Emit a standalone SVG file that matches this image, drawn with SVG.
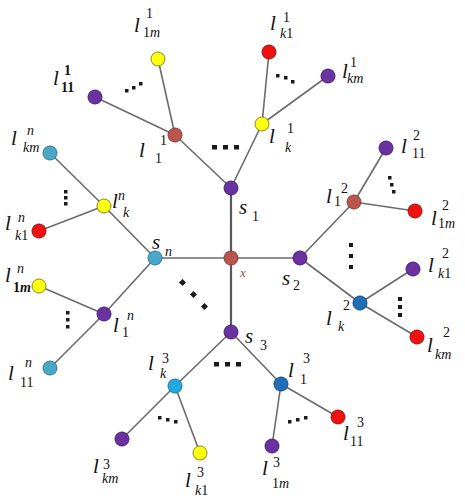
<svg xmlns="http://www.w3.org/2000/svg" width="465" height="501" viewBox="0 0 465 501">
<style>
.e{stroke:#6b6b6b;stroke-width:1.6;fill:none}
.t{stroke:#595959;stroke-width:2.2}
.n{stroke-width:1}
.pu{fill:#6a32a0;stroke:#4a1f78}
.br{fill:#b9554f;stroke:#8a3a36}
.ye{fill:#ffff10;stroke:#8a8a20}
.re{fill:#f01010;stroke:#a01010}
.te{fill:#4aa8c6;stroke:#2f7c96}
.bl{fill:#1e6fb8;stroke:#154e84}
.sk{fill:#23a8e0;stroke:#1778a8}
text{font-family:"Liberation Serif","DejaVu Serif",serif;fill:#111}
.l{font-style:italic;font-size:21px}
.s{font-size:14px}
.i{font-style:italic}
.sv{font-style:italic;font-size:21px}
.d{fill:#1a1a1a}
</style>
<g id="connectors">
<line class="e t" x1="231" y1="258" x2="231" y2="188"/>
<line class="e t" x1="231" y1="258" x2="231" y2="332"/>
<line class="e" x1="231" y1="258" x2="300" y2="258"/>
<line class="e" x1="231" y1="258" x2="155" y2="258"/>
<line class="e" x1="231" y1="188" x2="175" y2="135"/>
<line class="e" x1="231" y1="188" x2="262" y2="124"/>
<line class="e" x1="175" y1="135" x2="95" y2="97"/>
<line class="e" x1="175" y1="135" x2="158" y2="59"/>
<line class="e" x1="262" y1="124" x2="269" y2="52"/>
<line class="e" x1="262" y1="124" x2="328" y2="76"/>
<line class="e" x1="300" y1="258" x2="354" y2="202"/>
<line class="e" x1="300" y1="258" x2="360" y2="303"/>
<line class="e" x1="354" y1="202" x2="386" y2="148"/>
<line class="e" x1="354" y1="202" x2="415" y2="211"/>
<line class="e" x1="360" y1="303" x2="413" y2="269"/>
<line class="e" x1="360" y1="303" x2="417" y2="337"/>
<line class="e" x1="231" y1="332" x2="281" y2="384"/>
<line class="e" x1="231" y1="332" x2="175" y2="386"/>
<line class="e" x1="281" y1="384" x2="338" y2="417"/>
<line class="e" x1="281" y1="384" x2="272" y2="446"/>
<line class="e" x1="175" y1="386" x2="122" y2="439"/>
<line class="e" x1="175" y1="386" x2="200" y2="453"/>
<line class="e" x1="155" y1="258" x2="104" y2="206"/>
<line class="e" x1="155" y1="258" x2="104" y2="314"/>
<line class="e" x1="104" y1="206" x2="50" y2="153"/>
<line class="e" x1="104" y1="206" x2="39" y2="231"/>
<line class="e" x1="104" y1="314" x2="39" y2="286"/>
<line class="e" x1="104" y1="314" x2="50" y2="368"/>
</g>
<g id="ellipses" class="d">
<rect x="125" y="89" width="3.5" height="3.5"/><rect x="132" y="86" width="3.5" height="3.5"/><rect x="139" y="82" width="3.5" height="3.5"/>
<rect x="212" y="145" width="5" height="4.5"/><rect x="223" y="145" width="5" height="4.5"/><rect x="234" y="145" width="5" height="4.5"/>
<rect x="276" y="74" width="3.5" height="3.5"/><rect x="284" y="76" width="3.5" height="3.5"/><rect x="291" y="80" width="3.5" height="3.5"/>
<rect x="64" y="190" width="3.5" height="3.5"/><rect x="64" y="196" width="3.5" height="3.5"/><rect x="64" y="202" width="3.5" height="3.5"/>
<rect x="180" y="280" width="5" height="5" transform="rotate(45 182.5 282.5)"/><rect x="191" y="292" width="5" height="5" transform="rotate(45 193.5 294.5)"/><rect x="202" y="304" width="5" height="5" transform="rotate(45 204.5 306.5)"/>
<rect x="66" y="311" width="3.5" height="3.5"/><rect x="66" y="318" width="3.5" height="3.5"/><rect x="66" y="325" width="3.5" height="3.5"/>
<rect x="388" y="176" width="3.5" height="3.5"/><rect x="390" y="183" width="3.5" height="3.5"/><rect x="392" y="190" width="3.5" height="3.5"/>
<rect x="349" y="243" width="4" height="4"/><rect x="349" y="254" width="4" height="4"/><rect x="349" y="265" width="4" height="4"/>
<rect x="398" y="297" width="4" height="4"/><rect x="398" y="305" width="4" height="4"/><rect x="398" y="313" width="4" height="4"/>
<rect x="214" y="362" width="5" height="4.5"/><rect x="225" y="362" width="5" height="4.5"/><rect x="236" y="362" width="5" height="4.5"/>
<rect x="158" y="416" width="3.5" height="3.5"/><rect x="166" y="418" width="3.5" height="3.5"/><rect x="174" y="420" width="3.5" height="3.5"/>
<rect x="288" y="420" width="3.5" height="3.5"/><rect x="296" y="418" width="3.5" height="3.5"/><rect x="304" y="416" width="3.5" height="3.5"/>
</g>
<g id="x"><circle class="n br" cx="231" cy="258" r="7"/><text x="240" y="277" class="i" font-size="13" style="fill:#9a4a45">x</text></g>
<g id="s1"><circle class="n pu" cx="231" cy="188" r="7"/><text><tspan x="239" y="214" class="sv">s</tspan><tspan x="252" y="221" class="s">1</tspan></text></g>
<g id="s2"><circle class="n pu" cx="300" cy="258" r="7"/><text><tspan x="282" y="285" class="sv">s</tspan><tspan x="293" y="290" class="s">2</tspan></text></g>
<g id="s3"><circle class="n pu" cx="231" cy="332" r="7"/><text><tspan x="245" y="343" class="sv">s</tspan><tspan x="260" y="350" class="s">3</tspan></text></g>
<g id="sn"><circle class="n te" cx="155" cy="258" r="7"/><text><tspan x="152" y="249" class="sv">s</tspan><tspan x="165" y="256" class="s i" font-size="12">n</tspan></text></g>
<g id="l1_1"><circle class="n br" cx="175" cy="135" r="7"/><text><tspan x="139" y="157" class="l">l</tspan><tspan x="160" y="145" class="s">1</tspan><tspan x="155" y="163" class="s">1</tspan></text></g>
<g id="l1_11"><circle class="n pu" cx="95" cy="97" r="7"/><text><tspan x="53" y="85" class="l">l</tspan><tspan x="64" y="75" class="s" font-weight="bold">1</tspan><tspan x="61" y="92" class="s" font-weight="bold">11</tspan></text></g>
<g id="l1_1m"><circle class="n ye" cx="158" cy="59" r="7"/><text><tspan x="134" y="32" class="l">l</tspan><tspan x="146" y="18" class="s">1</tspan><tspan x="143" y="37" class="s">1<tspan class="i">m</tspan></tspan></text></g>
<g id="l1_k"><circle class="n ye" cx="262" cy="124" r="7"/><text><tspan x="269" y="143" class="l">l</tspan><tspan x="287" y="133" class="s">1</tspan><tspan x="285" y="152" class="s i">k</tspan></text></g>
<g id="l1_k1"><circle class="n re" cx="269" cy="52" r="7"/><text><tspan x="270" y="30" class="l">l</tspan><tspan x="283" y="22" class="s">1</tspan><tspan x="280" y="38" class="s"><tspan class="i">k</tspan>1</tspan></text></g>
<g id="l1_km"><circle class="n pu" cx="328" cy="76" r="7"/><text><tspan x="342" y="78" class="l">l</tspan><tspan x="350" y="67" class="s">1</tspan><tspan x="347" y="83" class="s i">km</tspan></text></g>
<g id="l2_1"><circle class="n br" cx="354" cy="202" r="7"/><text><tspan x="326" y="203" class="l">l</tspan><tspan x="341" y="193" class="s">2</tspan><tspan x="334" y="206" class="s">1</tspan></text></g>
<g id="l2_11"><circle class="n pu" cx="386" cy="148" r="7"/><text><tspan x="401" y="153" class="l">l</tspan><tspan x="413" y="140" class="s">2</tspan><tspan x="412" y="158" class="s">11</tspan></text></g>
<g id="l2_1m"><circle class="n re" cx="415" cy="211" r="7"/><text><tspan x="431" y="225" class="l">l</tspan><tspan x="442" y="210" class="s">2</tspan><tspan x="438" y="228" class="s">1<tspan class="i">m</tspan></tspan></text></g>
<g id="l2_k"><circle class="n bl" cx="360" cy="303" r="7"/><text><tspan x="326" y="325" class="l">l</tspan><tspan x="343" y="310" class="s">2</tspan><tspan x="338" y="331" class="s i">k</tspan></text></g>
<g id="l2_k1"><circle class="n pu" cx="413" cy="269" r="7"/><text><tspan x="428" y="272" class="l">l</tspan><tspan x="442" y="258" class="s">2</tspan><tspan x="438" y="278" class="s"><tspan class="i">k</tspan>1</tspan></text></g>
<g id="l2_km"><circle class="n re" cx="417" cy="337" r="7"/><text><tspan x="427" y="352" class="l">l</tspan><tspan x="443" y="337" class="s">2</tspan><tspan x="435" y="359" class="s i" font-size="16">km</tspan></text></g>
<g id="l3_1"><circle class="n bl" cx="281" cy="384" r="7"/><text><tspan x="288" y="377" class="l">l</tspan><tspan x="303" y="363" class="s">3</tspan><tspan x="300" y="384" class="s">1</tspan></text></g>
<g id="l3_11"><circle class="n re" cx="338" cy="417" r="7"/><text><tspan x="343" y="440" class="l">l</tspan><tspan x="357" y="427" class="s">3</tspan><tspan x="350" y="446" class="s">11</tspan></text></g>
<g id="l3_1m"><circle class="n pu" cx="272" cy="446" r="7"/><text><tspan x="262" y="475" class="l" font-size="25">l</tspan><tspan x="273" y="467" class="s" font-size="17">3</tspan><tspan x="272" y="488" class="s" font-size="17">1<tspan class="i">m</tspan></tspan></text></g>
<g id="l3_k"><circle class="n sk" cx="175" cy="386" r="7"/><text><tspan x="148" y="370" class="l">l</tspan><tspan x="162" y="363" class="s">3</tspan><tspan x="160" y="378" class="s i">k</tspan></text></g>
<g id="l3_km"><circle class="n pu" cx="122" cy="439" r="7"/><text><tspan x="93" y="473" class="l">l</tspan><tspan x="103" y="469" class="s">3</tspan><tspan x="102" y="483" class="s i" font-size="12">km</tspan></text></g>
<g id="l3_k1"><circle class="n ye" cx="200" cy="453" r="7"/><text><tspan x="185" y="487" class="l">l</tspan><tspan x="197" y="477" class="s">3</tspan><tspan x="195" y="495" class="s"><tspan class="i">k</tspan>1</tspan></text></g>
<g id="ln_k"><circle class="n ye" cx="104" cy="206" r="7"/><text><tspan x="112" y="208" class="l">l</tspan><tspan x="118" y="200" class="s i">n</tspan><tspan x="123" y="217" class="s i">k</tspan></text></g>
<g id="ln_km"><circle class="n te" cx="50" cy="153" r="7"/><text><tspan x="11" y="145" class="l">l</tspan><tspan x="27" y="135" class="s i">n</tspan><tspan x="23" y="152" class="s i" font-size="12">km</tspan></text></g>
<g id="ln_k1"><circle class="n re" cx="39" cy="231" r="7"/><text><tspan x="5" y="230" class="l">l</tspan><tspan x="18" y="222" class="s i">n</tspan><tspan x="15" y="240" class="s"><tspan class="i">k</tspan>1</tspan></text></g>
<g id="ln_1"><circle class="n pu" cx="104" cy="314" r="7"/><text><tspan x="113" y="332" class="l">l</tspan><tspan x="127" y="320" class="s i">n</tspan><tspan x="122" y="337" class="s">1</tspan></text></g>
<g id="ln_1m"><circle class="n ye" cx="39" cy="286" r="7"/><text><tspan x="5" y="282" class="l">l</tspan><tspan x="17" y="273" class="s i">n</tspan><tspan x="13" y="292" class="s" font-weight="bold">1<tspan class="i">m</tspan></tspan></text></g>
<g id="ln_11"><circle class="n te" cx="50" cy="368" r="7"/><text><tspan x="8" y="380" class="l" font-size="25">l</tspan><tspan x="25" y="367" class="s i" font-size="16">n</tspan><tspan x="20" y="387" class="s" font-size="17">11</tspan></text></g>
</svg>
